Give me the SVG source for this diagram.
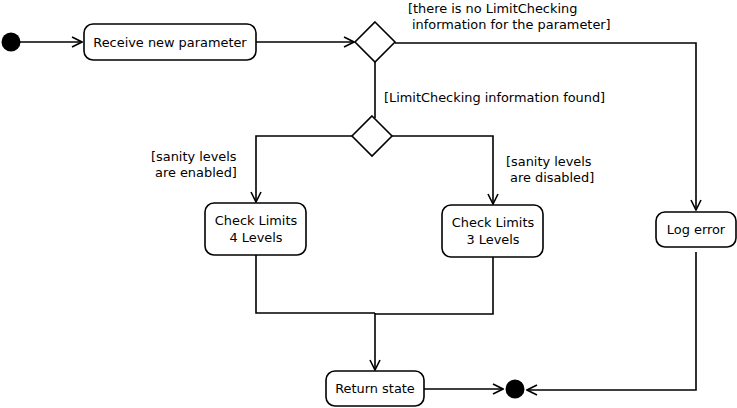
<svg xmlns="http://www.w3.org/2000/svg" width="737" height="408" viewBox="0 0 737 408">
<defs>
<style>
.node{fill:#fff;stroke:#000;stroke-width:1.6}
.dot{fill:#000}
.lbl{font-family:"DejaVu Sans",sans-serif;font-size:12.9px;fill:#000}
.ctr{text-anchor:middle}
.edge{fill:none;stroke:#000;stroke-width:1.6}
</style>
<marker id="arr" viewBox="0 0 12 12" refX="11" refY="6" markerWidth="12" markerHeight="12" markerUnits="userSpaceOnUse" orient="auto">
<path d="M1,1 L11,6 L1,11" fill="none" stroke="#000" stroke-width="1.6"/>
</marker>
</defs>
<rect width="737" height="408" fill="#fff"/>
<g id="connectors">
<path class="edge" d="M20,42 H82" marker-end="url(#arr)"/>
<path class="edge" d="M256,42 H354" marker-end="url(#arr)"/>
<path class="edge" d="M395,43 H696 V210" marker-end="url(#arr)"/>
<path class="edge" d="M375,62 V118"/>
<path class="edge" d="M352,136 H256 V202" marker-end="url(#arr)"/>
<path class="edge" d="M392,136 H493 V204" marker-end="url(#arr)"/>
<path class="edge" d="M256,255 V313 H375"/>
<path class="edge" d="M493,257 V314 H375"/>
<path class="edge" d="M375,313 V370" marker-end="url(#arr)"/>
<path class="edge" d="M424,389 H503" marker-end="url(#arr)"/>
<path class="edge" d="M696,252 V390 H527" marker-end="url(#arr)"/>
<text class="lbl" x="408" y="13">[there is no LimitChecking</text>
<text class="lbl" x="412" y="29">information for the parameter]</text>
<text class="lbl" x="384" y="102">[LimitChecking information found]</text>
<text class="lbl" x="151" y="161">[sanity levels</text>
<text class="lbl" x="155" y="177">are enabled]</text>
<text class="lbl" x="506" y="166">[sanity levels</text>
<text class="lbl" x="510" y="182">are disabled]</text>
</g>
<g id="start"><circle class="dot" cx="11" cy="42" r="9.5"/></g>
<g id="receive"><rect class="node" x="84" y="24" width="172" height="36" rx="9"/><text class="lbl ctr" x="170" y="46.5">Receive new parameter</text></g>
<g id="decision1"><polygon class="node" points="375,22 395,42 375,62 355,42"/></g>
<g id="decision2"><polygon class="node" points="372,116 392,136 372,156 352,136"/></g>
<g id="check4"><rect class="node" x="205" y="203" width="101" height="52" rx="9"/><text class="lbl ctr" x="256" y="225">Check Limits</text><text class="lbl ctr" x="256" y="242">4 Levels</text></g>
<g id="check3"><rect class="node" x="442" y="205" width="101" height="52" rx="9"/><text class="lbl ctr" x="493" y="227">Check Limits</text><text class="lbl ctr" x="493" y="244">3 Levels</text></g>
<g id="logerror"><rect class="node" x="656" y="212" width="80" height="35" rx="9"/><text class="lbl ctr" x="696" y="234">Log error</text></g>
<g id="returnstate"><rect class="node" x="326" y="371" width="98" height="35" rx="9"/><text class="lbl ctr" x="375" y="393">Return state</text></g>
<g id="end"><circle class="dot" cx="515" cy="389" r="9.5"/></g>
</svg>
